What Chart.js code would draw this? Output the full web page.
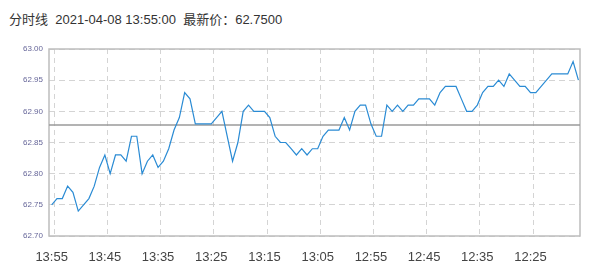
<!DOCTYPE html>
<html>
<head>
<meta charset="utf-8">
<script src="https://cdn.jsdelivr.net/npm/chart.js@4.4.1/dist/chart.umd.min.js"></script>
<style>
  html, body { margin: 0; padding: 0; background: #fff; }
  #wrap { position: relative; width: 599px; height: 275px; }
  #title {
    position: absolute; left: 9px; top: 9px;
    font: 13px "Liberation Sans", Arial, "Noto Sans CJK SC", sans-serif;
    color: #333; white-space: pre;
  }
  canvas { position: absolute; left: 0; top: 0; }
</style>
</head>
<body>
<div id="wrap">
  <div id="title">分时线  2021-04-08 13:55:00  最新价：62.7500</div>
  <canvas id="chart" width="599" height="275"></canvas>
</div>
<script>
// one point per minute, newest (13:55) first
const prices = [
  62.75, 62.76, 62.76, 62.78, 62.77, 62.74, 62.75, 62.76, 62.78, 62.81,
  62.83, 62.80, 62.83, 62.83, 62.82, 62.86, 62.86, 62.80, 62.82, 62.83,
  62.81, 62.82, 62.84, 62.87, 62.89, 62.93, 62.92, 62.88, 62.88, 62.88,
  62.88, 62.89, 62.90, 62.86, 62.82, 62.85, 62.90, 62.91, 62.90, 62.90,
  62.90, 62.89, 62.86, 62.85, 62.85, 62.84, 62.83, 62.84, 62.83, 62.84,
  62.84, 62.86, 62.87, 62.87, 62.87, 62.89, 62.87, 62.90, 62.91, 62.91,
  62.88, 62.86, 62.86, 62.91, 62.90, 62.91, 62.90, 62.91, 62.91, 62.92,
  62.92, 62.92, 62.91, 62.93, 62.94, 62.94, 62.94, 62.92, 62.90, 62.90,
  62.91, 62.93, 62.94, 62.94, 62.95, 62.94, 62.96, 62.95, 62.94, 62.94,
  62.93, 62.93, 62.94, 62.95, 62.96, 62.96, 62.96, 62.96, 62.98, 62.95
];
const tickLabels = ['13:55', '13:45', '13:35', '13:25', '13:15', '13:05', '12:55', '12:45', '12:35', '12:25'];
const refPrice = 62.878;
const yTicks = [62.70, 62.75, 62.80, 62.85, 62.90, 62.95, 63.00];

const X_MIN = -0.5, X_MAX = 99.3;

// solid box around the plot area
const frame = {
  id: 'frame',
  beforeDatasetsDraw(chart) {
    const { ctx, chartArea: a } = chart;
    ctx.save();
    ctx.strokeStyle = '#bdbdbd';
    ctx.lineWidth = 1.5;
    ctx.strokeRect(a.left, a.top, a.right - a.left, a.bottom - a.top);
    ctx.restore();
  }
};

new Chart(document.getElementById('chart'), {
  type: 'line',
  data: {
    datasets: [
      {
        data: prices.map((v, i) => ({ x: i, y: v })),
        borderColor: '#2a8bd4',
        borderWidth: 1.2,
        pointRadius: 0,
        tension: 0,
        order: 1
      },
      {
        data: [{ x: X_MIN, y: refPrice }, { x: X_MAX, y: refPrice }],
        borderColor: '#9a9a9a',
        borderWidth: 1.5,
        pointRadius: 0,
        order: 2
      }
    ]
  },
  options: {
    responsive: false,
    animation: false,
    layout: { padding: { top: 49, right: 19, left: 0, bottom: 0 } },
    plugins: { legend: { display: false }, tooltip: { enabled: false } },
    scales: {
      x: {
        type: 'linear',
        position: 'bottom',
        min: X_MIN,
        max: X_MAX,
        afterBuildTicks: (s) => { s.ticks = tickLabels.map((_, i) => ({ value: i * 10 })); },
        afterFit: (s) => { s.height = 39; },
        grid: { display: false },
        border: { display: false },
        ticks: {
          autoSkip: false,
          maxRotation: 0,
          padding: 6,
          color: '#444',
          font: { family: '"Liberation Sans", Arial, sans-serif', size: 13 },
          callback: (v) => tickLabels[Math.round(v / 10)]
        }
      },
      // grid lines only, sit half a minute right of the labels
      xGrid: {
        type: 'linear',
        position: 'bottom',
        min: X_MIN,
        max: X_MAX,
        afterBuildTicks: (s) => { s.ticks = tickLabels.map((_, i) => ({ value: i * 10 + 0.5 })); },
        afterFit: (s) => { s.height = 0; },
        border: { display: false, dash: [5, 4] },
        grid: { color: '#d4d4d4', lineWidth: 1, drawTicks: false },
        ticks: { display: false }
      },
      y: {
        min: 62.70,
        max: 63.00,
        afterBuildTicks: (s) => { s.ticks = yTicks.map(v => ({ value: v })); },
        afterFit: (s) => { s.width = 49; },
        border: { display: false, dash: [6, 4] },
        grid: { color: '#d4d4d4', lineWidth: 1, drawTicks: false },
        ticks: {
          padding: 6,
          color: '#666699',
          font: { family: '"Liberation Sans", Arial, sans-serif', size: 8 },
          callback: (v) => v.toFixed(2)
        }
      }
    }
  },
  plugins: [frame]
});
</script>
</body>
</html>
